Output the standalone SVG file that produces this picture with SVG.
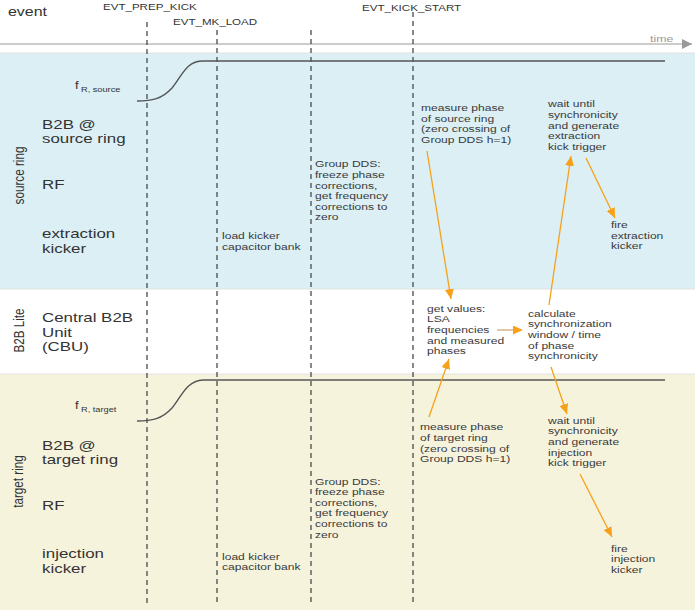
<svg xmlns="http://www.w3.org/2000/svg" width="695" height="610" viewBox="0 0 695 610">
<style>
text{font-family:"Liberation Sans",Arial,sans-serif;fill:#333}
.ev{font-size:8.9px}
.lb{font-size:13px}
.sm{font-size:9.3px;fill:#3a3a3a}
.rot{font-size:11.7px;text-anchor:middle}
.dash{stroke:#4a4a4a;stroke-width:1.3;stroke-dasharray:5 4;fill:none}
.curve{stroke:#555;stroke-width:1.4;fill:none}
.arr{stroke:#f7a11a;stroke-width:1.3;fill:none;marker-end:url(#ah)}
</style>
<defs>
<marker id="ah" markerUnits="userSpaceOnUse" markerWidth="10" markerHeight="9" refX="10" refY="4.5" orient="auto">
<path d="M0,0 L10,4.5 L0,9 z" fill="#f7a11a"/>
</marker>
<marker id="th" markerUnits="userSpaceOnUse" markerWidth="10" markerHeight="10" refX="10" refY="5" orient="auto">
<path d="M0,0 L10,5 L0,10 z" fill="#999"/>
</marker>
</defs>
<rect x="0" y="0" width="695" height="610" fill="#fff"/>
<g id="bands">
<rect x="0" y="53" width="695" height="236" fill="#dbeff5"/>
<rect x="0" y="289" width="695" height="85" fill="#fff"/>
<rect x="0" y="374" width="695" height="236" fill="#f6f3dd"/>
<line x1="0" y1="53" x2="695" y2="53" stroke="#e2e2e2" stroke-width="1"/>
<line x1="0" y1="289" x2="695" y2="289" stroke="#e2e2e2" stroke-width="1"/>
<line x1="0" y1="374" x2="695" y2="374" stroke="#e2e2e2" stroke-width="1"/>
</g>
<g id="time-axis">
<line x1="0" y1="44" x2="692" y2="44" stroke="#999" stroke-width="1.2" marker-end="url(#th)"/>
<g transform="scale(1.3 1)"><text x="500" y="42" style="font-size:9.5px;fill:#999">time</text></g>
</g>
<g id="event-lines">
<line class="dash" x1="147" y1="22" x2="147" y2="606"/>
<line class="dash" x1="217" y1="30" x2="217" y2="606"/>
<line class="dash" x1="311" y1="30" x2="311" y2="606"/>
<line class="dash" x1="413" y1="12" x2="413" y2="606"/>
</g>
<g id="curves">
<path class="curve" d="M137,101 C152,101 162,99 172,88 C182,76 186,61 203,61 L665,61"/>
<path class="curve" d="M137,421 C152,421 162,419 172,408 C182,396 186,381 203,380 L665,380"/>
</g>
<g id="rotated-labels">
<text class="rot" transform="translate(24,175.5) rotate(-90) scale(1 1.3)">source ring</text>
<text class="rot" transform="translate(24,330.5) rotate(-90) scale(1 1.3)">B2B Lite</text>
<text class="rot" transform="translate(23,481.5) rotate(-90) scale(1 1.3)">target ring</text>
</g>
<g transform="scale(1.3 1)">
<g id="events">
<text x="6.15" y="16" style="font-size:12.3px">event</text>
<text class="ev" x="79.23" y="10">EVT_PREP_KICK</text>
<text class="ev" x="133.08" y="25">EVT_MK_LOAD</text>
<text class="ev" x="278.46" y="11">EVT_KICK_START</text>
</g>
<g id="freq-labels">
<text x="57.7" y="89" style="font-size:10px">f</text>
<text x="62.3" y="92" style="font-size:7.1px">R, source</text>
<text x="57.7" y="409" style="font-size:10px">f</text>
<text x="62.3" y="412" style="font-size:7.1px">R, target</text>
</g>
<g id="b2b-source"><text class="lb" x="32.31" y="129">B2B @</text><text class="lb" x="32.31" y="143.5">source ring</text></g>
<g id="rf-source"><text class="lb" x="32.31" y="189">RF</text></g>
<g id="extraction-kicker"><text class="lb" x="32.31" y="238">extraction</text><text class="lb" x="32.31" y="252.7">kicker</text></g>
<g id="cbu"><text class="lb" x="32.31" y="321.7">Central B2B</text><text class="lb" x="32.31" y="336.7">Unit</text><text class="lb" x="32.31" y="351.5">(CBU)</text></g>
<g id="b2b-target"><text class="lb" x="32.31" y="450">B2B @</text><text class="lb" x="32.31" y="464.5">target ring</text></g>
<g id="rf-target"><text class="lb" x="32.31" y="510">RF</text></g>
<g id="injection-kicker"><text class="lb" x="32.31" y="558">injection</text><text class="lb" x="32.31" y="573">kicker</text></g>
<g id="load-source"><text class="sm" x="170.77" y="239.5">load kicker</text><text class="sm" x="170.77" y="250">capacitor bank</text></g>
<g id="dds-source">
<text class="sm" x="242.31" y="167.5">Group DDS:</text>
<text class="sm" x="242.31" y="178">freeze phase</text>
<text class="sm" x="242.31" y="188.6">corrections,</text>
<text class="sm" x="242.31" y="199.2">get frequency</text>
<text class="sm" x="242.31" y="209.8">corrections to</text>
<text class="sm" x="242.31" y="220.4">zero</text>
</g>
<g id="load-target"><text class="sm" x="170.77" y="560">load kicker</text><text class="sm" x="170.77" y="570.5">capacitor bank</text></g>
<g id="dds-target">
<text class="sm" x="242.31" y="484.7">Group DDS:</text>
<text class="sm" x="242.31" y="495.3">freeze phase</text>
<text class="sm" x="242.31" y="505.9">corrections,</text>
<text class="sm" x="242.31" y="516.5">get frequency</text>
<text class="sm" x="242.31" y="527.1">corrections to</text>
<text class="sm" x="242.31" y="537.7">zero</text>
</g>
<g id="measure-source">
<text class="sm" x="323.85" y="111">measure phase</text>
<text class="sm" x="323.85" y="121.7">of source ring</text>
<text class="sm" x="323.85" y="132.3">(zero crossing of</text>
<text class="sm" x="323.85" y="143">Group DDS h=1)</text>
</g>
<g id="wait-extraction">
<text class="sm" x="421.54" y="107.3">wait until</text>
<text class="sm" x="421.54" y="118">synchronicity</text>
<text class="sm" x="421.54" y="128.7">and generate</text>
<text class="sm" x="421.54" y="139.3">extraction</text>
<text class="sm" x="421.54" y="150">kick trigger</text>
</g>
<g id="fire-extraction">
<text class="sm" x="470" y="228">fire</text>
<text class="sm" x="470" y="238.7">extraction</text>
<text class="sm" x="470" y="249.3">kicker</text>
</g>
<g id="get-values">
<text class="sm" x="328.46" y="311.7">get values:</text>
<text class="sm" x="328.46" y="322.3">LSA</text>
<text class="sm" x="328.46" y="333">frequencies</text>
<text class="sm" x="328.46" y="343.6">and measured</text>
<text class="sm" x="328.46" y="354.3">phases</text>
</g>
<g id="calculate">
<text class="sm" x="406.15" y="316.7">calculate</text>
<text class="sm" x="406.15" y="327.3">synchronization</text>
<text class="sm" x="406.15" y="338">window / time</text>
<text class="sm" x="406.15" y="348.6">of phase</text>
<text class="sm" x="406.15" y="359.3">synchronicity</text>
</g>
<g id="measure-target">
<text class="sm" x="323.08" y="430.3">measure phase</text>
<text class="sm" x="323.08" y="441">of target ring</text>
<text class="sm" x="323.08" y="451.6">(zero crossing of</text>
<text class="sm" x="323.08" y="462.3">Group DDS h=1)</text>
</g>
<g id="wait-injection">
<text class="sm" x="421.54" y="423.7">wait until</text>
<text class="sm" x="421.54" y="434.3">synchronicity</text>
<text class="sm" x="421.54" y="445">and generate</text>
<text class="sm" x="421.54" y="455.6">injection</text>
<text class="sm" x="421.54" y="466.3">kick trigger</text>
</g>
<g id="fire-injection">
<text class="sm" x="470" y="551.7">fire</text>
<text class="sm" x="470" y="562.3">injection</text>
<text class="sm" x="470" y="573">kicker</text>
</g>
</g>
<g id="connectors">
<line class="arr" x1="427" y1="151" x2="451" y2="299"/>
<line class="arr" x1="549" y1="305" x2="571" y2="156"/>
<line class="arr" x1="586" y1="158" x2="615" y2="218"/>
<line x1="497" y1="330" x2="514" y2="330" stroke="#d6b48c" stroke-width="1.5"/>
<line x1="512" y1="330" x2="523" y2="330" stroke="none" marker-end="url(#ah)"/>
<line class="arr" x1="429" y1="417" x2="449" y2="359"/>
<line class="arr" x1="551" y1="367" x2="567" y2="414"/>
<line class="arr" x1="580" y1="474" x2="612" y2="537"/>
</g>
</svg>
